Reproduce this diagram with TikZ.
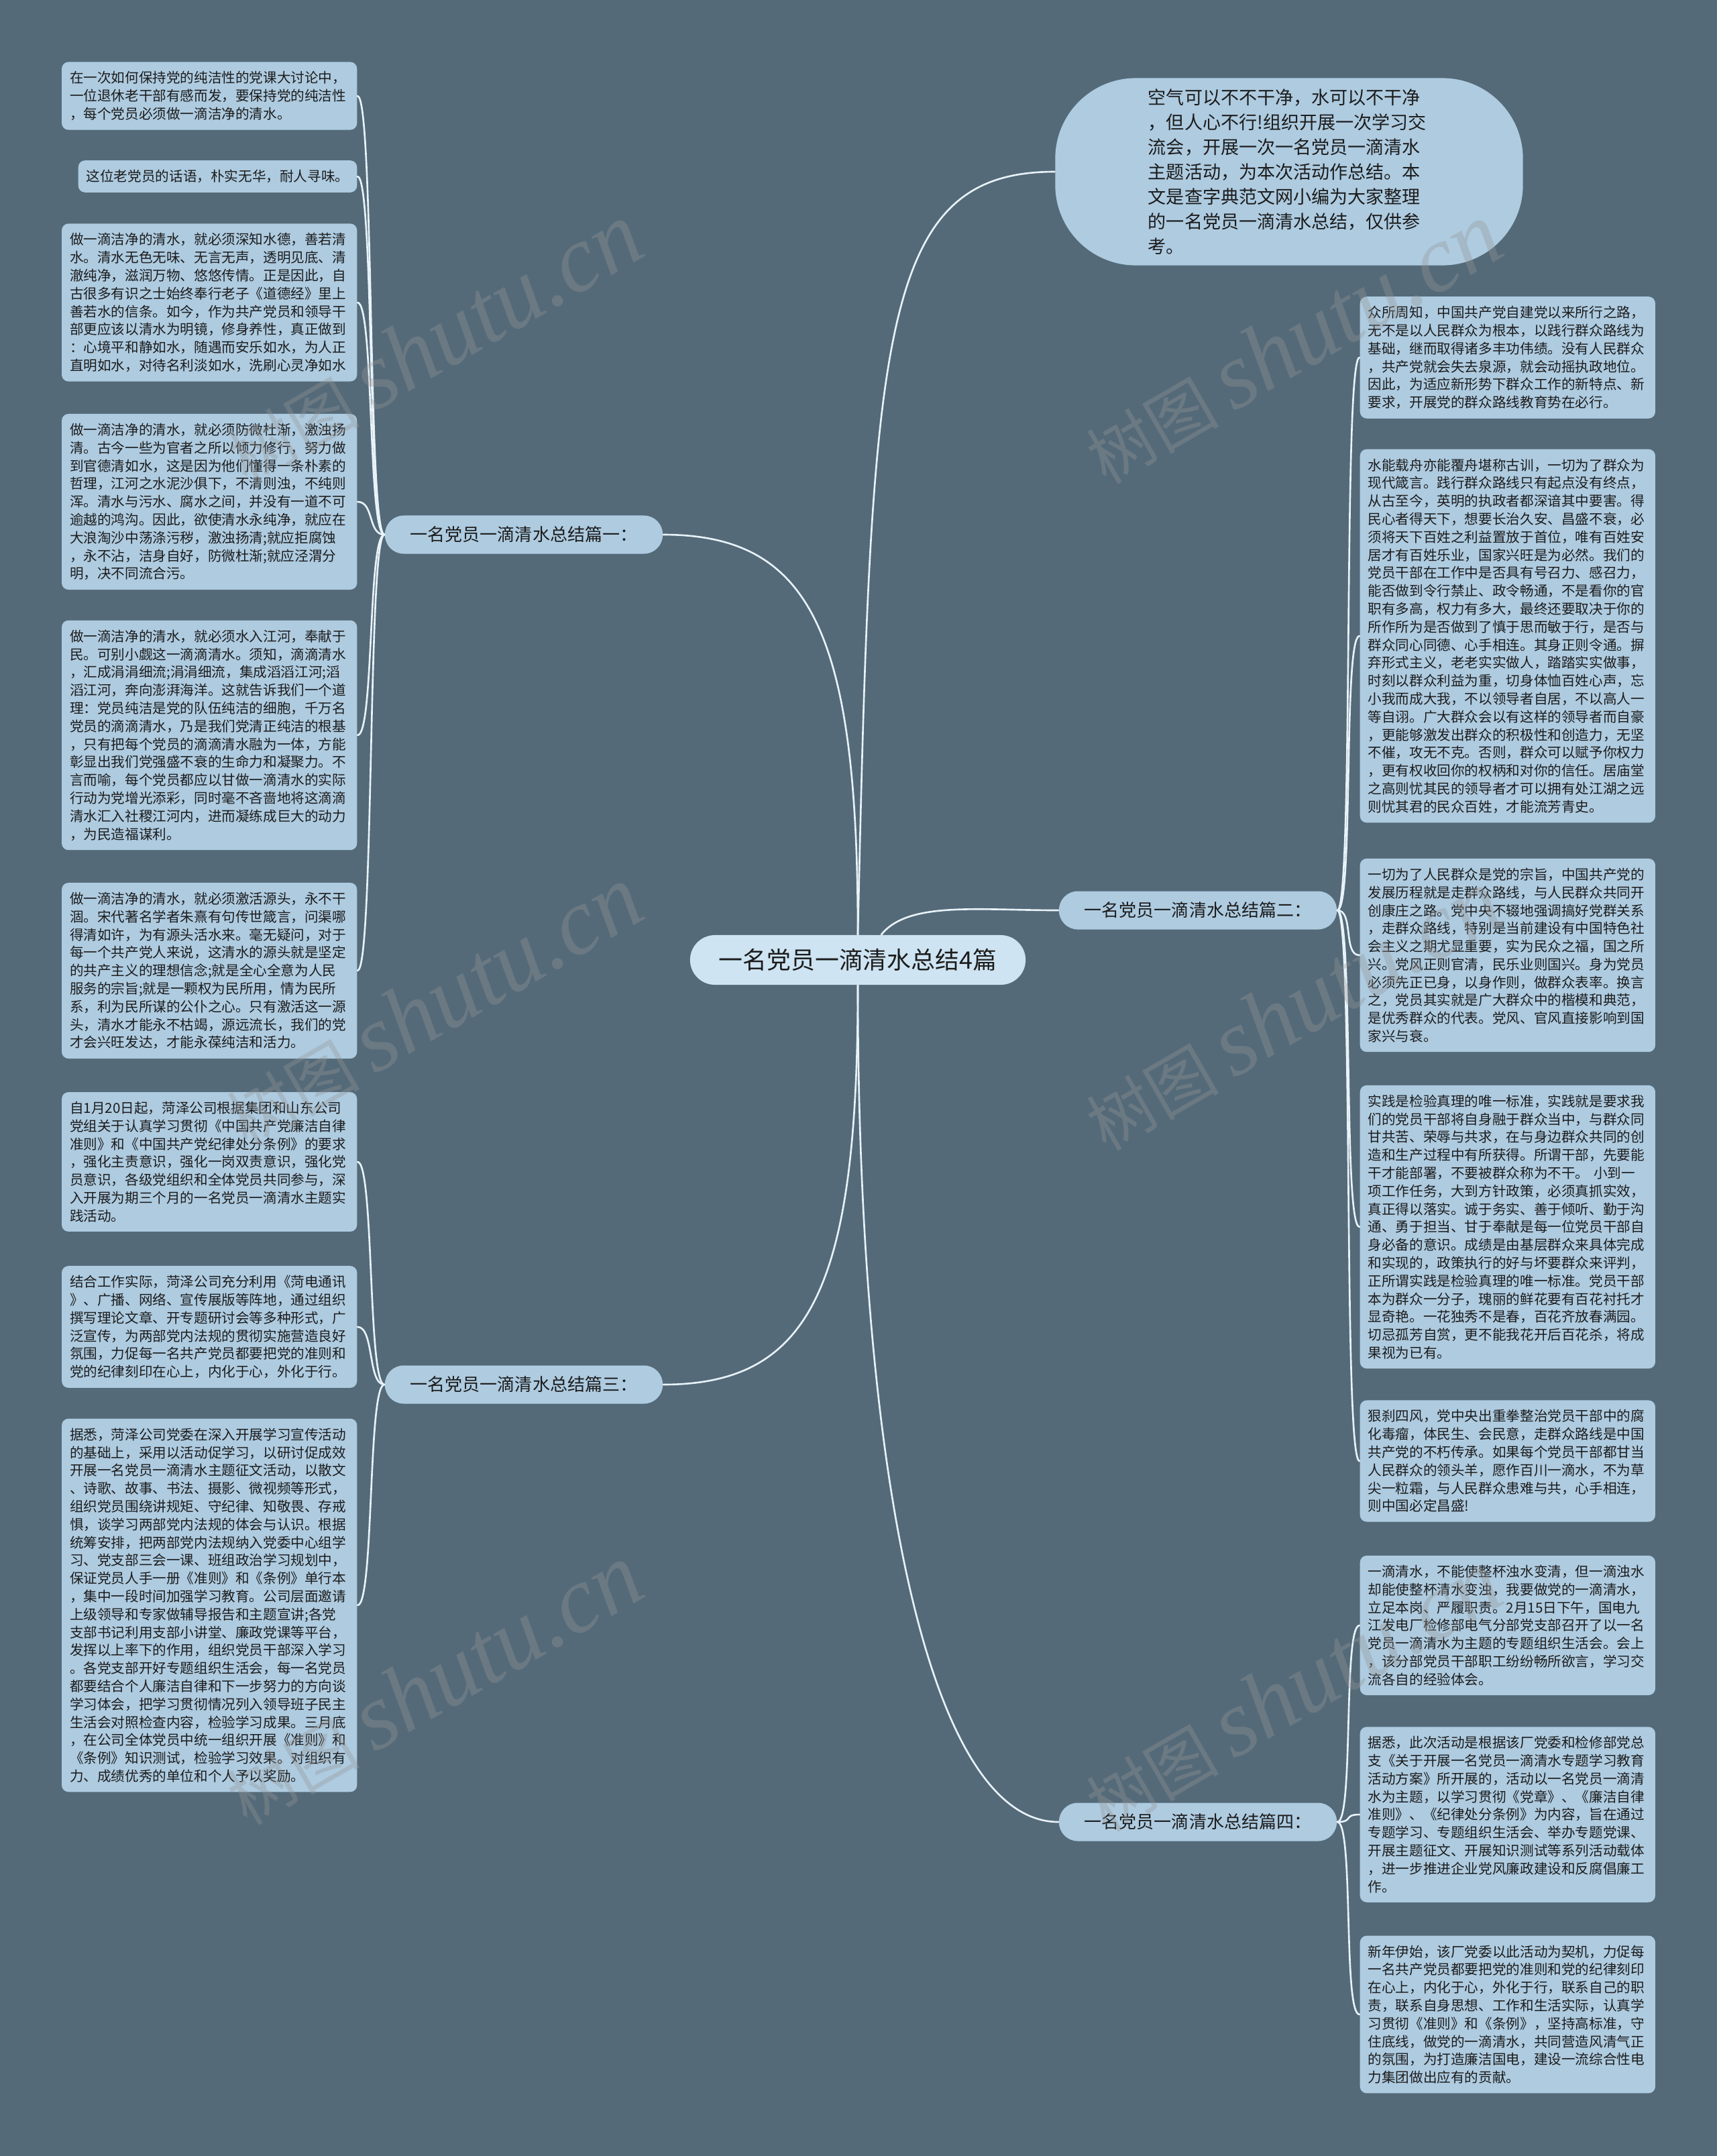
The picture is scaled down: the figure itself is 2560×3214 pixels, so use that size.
\documentclass[tikz,border=0pt]{standalone}
\usepackage{fontspec}
\setmainfont{Noto Sans CJK SC}
\newfontfamily\wmlatin{Liberation Serif}
\usetikzlibrary{calc}
\definecolor{bgslate}{RGB}{84,106,121}
\definecolor{leafblue}{RGB}{174,203,224}
\definecolor{rootblue}{RGB}{206,228,242}
\definecolor{linkwhite}{RGB}{232,242,248}
\definecolor{inkgray}{RGB}{28,28,28}
\definecolor{markgray}{RGB}{150,150,150}

\begin{document}
\begin{tikzpicture}[x=0.01cm,y=-0.01cm,line cap=round,line join=round,
  leaf/.style={fill=leafblue,rounded corners=0.1cm,text=inkgray,align=left,text width=4.16cm,inner xsep=0.12cm,inner ysep=0.14cm,font=\fontsize{5.86pt}{7.62pt}\selectfont},
  leafl/.style={leaf,anchor=east},
  leafr/.style={leaf,anchor=west},
  branch/.style={fill=leafblue,rounded corners=0.28cm,text=inkgray,minimum width=4.14cm,minimum height=0.57cm,font=\fontsize{7.4pt}{9pt}\selectfont},
  title/.style={fill=rootblue,rounded corners=0.37cm,text=inkgray,minimum width=5cm,minimum height=0.74cm,font=\fontsize{10.2pt}{12pt}\selectfont},
  intro/.style={fill=leafblue,rounded corners=1.2cm,text=inkgray,minimum width=6.97cm,minimum height=2.79cm,text width=4.2cm,align=left,font=\fontsize{7.7pt}{10.5pt}\selectfont},
  link/.style={draw=linkwhite,line width=0.75pt},
  wmark/.style={text=markgray,text opacity=0.35,rotate=30}]
  \useasboundingbox (0,0) rectangle (2560,3214);
  \fill[bgslate] (0,0) rectangle (2560,3214);

  \node[title] (title) at (1279,1431) {一名党员一滴清水总结4篇};
  \node[intro] (intro) at (1922,256) {空气可以不不干净，水可以不干净\\，但人心不行!组织开展一次学习交\\流会，开展一次一名党员一滴清水\\主题活动，为本次活动作总结。本\\文是查字典范文网小编为大家整理\\的一名党员一滴清水总结，仅供参\\考。};
  \node[branch] (p1) at (781,797) {一名党员一滴清水总结篇一：};
  \node[branch] (p2) at (1786,1357) {一名党员一滴清水总结篇二：};
  \node[branch] (p3) at (781,2064) {一名党员一滴清水总结篇三：};
  \node[branch] (p4) at (1786,2716) {一名党员一滴清水总结篇四：};

  \node[leafl] (p1a) at (533,143) {在一次如何保持党的纯洁性的党课大讨论中，\\一位退休老干部有感而发，要保持党的纯洁性\\，每个党员必须做一滴洁净的清水。};
  \node[leafl,text width=] (p1b) at (533,263) {这位老党员的话语，朴实无华，耐人寻味。};
  \node[leafl] (p1c) at (533,451) {做一滴洁净的清水，就必须深知水德，善若清\\水。清水无色无味、无言无声，透明见底、清\\澈纯净，滋润万物、悠悠传情。正是因此，自\\古很多有识之士始终奉行老子《道德经》里上\\善若水的信条。如今，作为共产党员和领导干\\部更应该以清水为明镜，修身养性，真正做到\\：心境平和静如水，随遇而安乐如水，为人正\\直明如水，对待名利淡如水，洗刷心灵净如水};
  \node[leafl] (p1d) at (533,748) {做一滴洁净的清水，就必须防微杜渐，激浊扬\\清。古今一些为官者之所以倾力修行，努力做\\到官德清如水，这是因为他们懂得一条朴素的\\哲理，江河之水泥沙俱下，不清则浊，不纯则\\浑。清水与污水、腐水之间，并没有一道不可\\逾越的鸿沟。因此，欲使清水永纯净，就应在\\大浪淘沙中荡涤污秽，激浊扬清;就应拒腐蚀\\，永不沾，洁身自好，防微杜渐;就应泾渭分\\明，决不同流合污。};
  \node[leafl] (p1e) at (533,1096) {做一滴洁净的清水，就必须水入江河，奉献于\\民。可别小觑这一滴滴清水。须知，滴滴清水\\，汇成涓涓细流;涓涓细流，集成滔滔江河;滔\\滔江河，奔向澎湃海洋。这就告诉我们一个道\\理：党员纯洁是党的队伍纯洁的细胞，千万名\\党员的滴滴清水，乃是我们党清正纯洁的根基\\，只有把每个党员的滴滴清水融为一体，方能\\彰显出我们党强盛不衰的生命力和凝聚力。不\\言而喻，每个党员都应以甘做一滴清水的实际\\行动为党增光添彩，同时毫不吝啬地将这滴滴\\清水汇入社稷江河内，进而凝练成巨大的动力\\，为民造福谋利。};
  \node[leafl] (p1f) at (533,1447) {做一滴洁净的清水，就必须激活源头，永不干\\涸。宋代著名学者朱熹有句传世箴言，问渠哪\\得清如许，为有源头活水来。毫无疑问，对于\\每一个共产党人来说，这清水的源头就是坚定\\的共产主义的理想信念;就是全心全意为人民\\服务的宗旨;就是一颗权为民所用，情为民所\\系，利为民所谋的公仆之心。只有激活这一源\\头，清水才能永不枯竭，源远流长，我们的党\\才会兴旺发达，才能永葆纯洁和活力。};
  \node[leafl] (p3a) at (533,1732) {自1月20日起，菏泽公司根据集团和山东公司\\党组关于认真学习贯彻《中国共产党廉洁自律\\准则》和《中国共产党纪律处分条例》的要求\\，强化主责意识，强化一岗双责意识，强化党\\员意识，各级党组织和全体党员共同参与，深\\入开展为期三个月的一名党员一滴清水主题实\\践活动。};
  \node[leafl] (p3b) at (533,1978) {结合工作实际，菏泽公司充分利用《菏电通讯\\》、广播、网络、宣传展版等阵地，通过组织\\撰写理论文章、开专题研讨会等多种形式，广\\泛宣传，为两部党内法规的贯彻实施营造良好\\氛围，力促每一名共产党员都要把党的准则和\\党的纪律刻印在心上，内化于心，外化于行。};
  \node[leafl] (p3c) at (533,2393) {据悉，菏泽公司党委在深入开展学习宣传活动\\的基础上，采用以活动促学习，以研讨促成效\\开展一名党员一滴清水主题征文活动，以散文\\、诗歌、故事、书法、摄影、微视频等形式，\\组织党员围绕讲规矩、守纪律、知敬畏、存戒\\惧，谈学习两部党内法规的体会与认识。根据\\统筹安排，把两部党内法规纳入党委中心组学\\习、党支部三会一课、班组政治学习规划中，\\保证党员人手一册《准则》和《条例》单行本\\，集中一段时间加强学习教育。公司层面邀请\\上级领导和专家做辅导报告和主题宣讲;各党\\支部书记利用支部小讲堂、廉政党课等平台，\\发挥以上率下的作用，组织党员干部深入学习\\。各党支部开好专题组织生活会，每一名党员\\都要结合个人廉洁自律和下一步努力的方向谈\\学习体会，把学习贯彻情况列入领导班子民主\\生活会对照检查内容，检验学习成果。三月底\\，在公司全体党员中统一组织开展《准则》和\\《条例》知识测试，检验学习效果。对组织有\\力、成绩优秀的单位和个人予以奖励。};

  \node[leafr] (p2a) at (2027,533) {众所周知，中国共产党自建党以来所行之路，\\无不是以人民群众为根本，以践行群众路线为\\基础，继而取得诸多丰功伟绩。没有人民群众\\，共产党就会失去泉源，就会动摇执政地位。\\因此，为适应新形势下群众工作的新特点、新\\要求，开展党的群众路线教育势在必行。};
  \node[leafr] (p2b) at (2027,948) {水能载舟亦能覆舟堪称古训，一切为了群众为\\现代箴言。践行群众路线只有起点没有终点，\\从古至今，英明的执政者都深谙其中要害。得\\民心者得天下，想要长治久安、昌盛不衰，必\\须将天下百姓之利益置放于首位，唯有百姓安\\居才有百姓乐业，国家兴旺是为必然。我们的\\党员干部在工作中是否具有号召力、感召力，\\能否做到令行禁止、政令畅通，不是看你的官\\职有多高，权力有多大，最终还要取决于你的\\所作所为是否做到了慎于思而敏于行，是否与\\群众同心同德、心手相连。其身正则令通。摒\\弃形式主义，老老实实做人，踏踏实实做事，\\时刻以群众利益为重，切身体恤百姓心声，忘\\小我而成大我，不以领导者自居，不以高人一\\等自诩。广大群众会以有这样的领导者而自豪\\，更能够激发出群众的积极性和创造力，无坚\\不催，攻无不克。否则，群众可以赋予你权力\\，更有权收回你的权柄和对你的信任。居庙堂\\之高则忧其民的领导者才可以拥有处江湖之远\\则忧其君的民众百姓，才能流芳青史。};
  \node[leafr] (p2c) at (2027,1424) {一切为了人民群众是党的宗旨，中国共产党的\\发展历程就是走群众路线，与人民群众共同开\\创康庄之路。党中央不辍地强调搞好党群关系\\，走群众路线，特别是当前建设有中国特色社\\会主义之期尤显重要，实为民众之福，国之所\\兴。党风正则官清，民乐业则国兴。身为党员\\必须先正已身，以身作则，做群众表率。换言\\之，党员其实就是广大群众中的楷模和典范，\\是优秀群众的代表。党风、官风直接影响到国\\家兴与衰。};
  \node[leafr] (p2d) at (2027,1829) {实践是检验真理的唯一标准，实践就是要求我\\们的党员干部将自身融于群众当中，与群众同\\甘共苦、荣辱与共求，在与身边群众共同的创\\造和生产过程中有所获得。所谓干部，先要能\\干才能部署，不要被群众称为不干。 小到一\\项工作任务，大到方针政策，必须真抓实效，\\真正得以落实。诚于务实、善于倾听、勤于沟\\通、勇于担当、甘于奉献是每一位党员干部自\\身必备的意识。成绩是由基层群众来具体完成\\和实现的，政策执行的好与坏要群众来评判，\\正所谓实践是检验真理的唯一标准。党员干部\\本为群众一分子，瑰丽的鲜花要有百花衬托才\\显奇艳。一花独秀不是春，百花齐放春满园。\\切忌孤芳自赏，更不能我花开后百花杀，将成\\果视为已有。};
  \node[leafr] (p2e) at (2027,2178) {狠刹四风，党中央出重拳整治党员干部中的腐\\化毒瘤，体民生、会民意，走群众路线是中国\\共产党的不朽传承。如果每个党员干部都甘当\\人民群众的领头羊，愿作百川一滴水，不为草\\尖一粒霜，与人民群众患难与共，心手相连，\\则中国必定昌盛!};
  \node[leafr] (p4a) at (2027,2423) {一滴清水，不能使整杯浊水变清，但一滴浊水\\却能使整杯清水变浊，我要做党的一滴清水，\\立足本岗、严履职责。2月15日下午，国电九\\江发电厂检修部电气分部党支部召开了以一名\\党员一滴清水为主题的专题组织生活会。会上\\，该分部党员干部职工纷纷畅所欲言，学习交\\流各自的经验体会。};
  \node[leafr] (p4b) at (2027,2705) {据悉，此次活动是根据该厂党委和检修部党总\\支《关于开展一名党员一滴清水专题学习教育\\活动方案》所开展的，活动以一名党员一滴清\\水为主题，以学习贯彻《党章》、《廉洁自律\\准则》、《纪律处分条例》为内容，旨在通过\\专题学习、专题组织生活会、举办专题党课、\\开展主题征文、开展知识测试等系列活动载体\\，进一步推进企业党风廉政建设和反腐倡廉工\\作。};
  \node[leafr] (p4c) at (2027,3003) {新年伊始，该厂党委以此活动为契机，力促每\\一名共产党员都要把党的准则和党的纪律刻印\\在心上，内化于心，外化于行，联系自己的职\\责，联系自身思想、工作和生活实际，认真学\\习贯彻《准则》和《条例》，坚持高标准，守\\住底线，做党的一滴清水，共同营造风清气正\\的氛围，为打造廉洁国电，建设一流综合性电\\力集团做出应有的贡献。};

  \draw[link] (title.north) .. controls +(20,-900) and +(-260,0) .. (intro.west);
  \draw[link] (title.north) .. controls +(0,-450) and +(220,0) .. (p1.east);
  \draw[link] ($(title.north)+(35,0)$) .. controls +(40,-50) and +(-120,0) .. (p2.west);
  \draw[link] (title.south) .. controls +(0,450) and +(220,0) .. (p3.east);
  \draw[link] (title.south) .. controls +(0,700) and +(-200,0) .. (p4.west);

  \draw[link] (p1.west) .. controls +(-25,0) and +(25,0) .. (p1a.east);
  \draw[link] (p1.west) .. controls +(-25,0) and +(25,0) .. (p1b.east);
  \draw[link] (p1.west) .. controls +(-25,0) and +(25,0) .. (p1c.east);
  \draw[link] (p1.west) .. controls +(-25,0) and +(25,0) .. (p1d.east);
  \draw[link] (p1.west) .. controls +(-25,0) and +(25,0) .. (p1e.east);
  \draw[link] (p1.west) .. controls +(-25,0) and +(25,0) .. (p1f.east);
  \draw[link] (p3.west) .. controls +(-25,0) and +(25,0) .. (p3a.east);
  \draw[link] (p3.west) .. controls +(-25,0) and +(25,0) .. (p3b.east);
  \draw[link] (p3.west) .. controls +(-25,0) and +(25,0) .. (p3c.east);
  \draw[link] (p2.east) .. controls +(25,0) and +(-25,0) .. (p2a.west);
  \draw[link] (p2.east) .. controls +(25,0) and +(-25,0) .. (p2b.west);
  \draw[link] (p2.east) .. controls +(25,0) and +(-25,0) .. (p2c.west);
  \draw[link] (p2.east) .. controls +(25,0) and +(-25,0) .. (p2d.west);
  \draw[link] (p2.east) .. controls +(25,0) and +(-25,0) .. (p2e.west);
  \draw[link] (p4.east) .. controls +(25,0) and +(-25,0) .. (p4a.west);
  \draw[link] (p4.east) .. controls +(25,0) and +(-25,0) .. (p4b.west);
  \draw[link] (p4.east) .. controls +(25,0) and +(-25,0) .. (p4c.west);

  \node[wmark] (wm1) at (646,512) {\fontsize{28pt}{30pt}\selectfont 树图 {\wmlatin\itshape\fontsize{40pt}{42pt}\selectfont shutu.cn}};
  \node[wmark] (wm2) at (646,1500) {\fontsize{28pt}{30pt}\selectfont 树图 {\wmlatin\itshape\fontsize{40pt}{42pt}\selectfont shutu.cn}};
  \node[wmark] (wm3) at (646,2511) {\fontsize{28pt}{30pt}\selectfont 树图 {\wmlatin\itshape\fontsize{40pt}{42pt}\selectfont shutu.cn}};
  \node[wmark] (wm4) at (1927,512) {\fontsize{28pt}{30pt}\selectfont 树图 {\wmlatin\itshape\fontsize{40pt}{42pt}\selectfont shutu.cn}};
  \node[wmark] (wm5) at (1927,1506) {\fontsize{28pt}{30pt}\selectfont 树图 {\wmlatin\itshape\fontsize{40pt}{42pt}\selectfont shutu.cn}};
  \node[wmark] (wm6) at (1927,2521) {\fontsize{28pt}{30pt}\selectfont 树图 {\wmlatin\itshape\fontsize{40pt}{42pt}\selectfont shutu.cn}};
\end{tikzpicture}
\end{document}
